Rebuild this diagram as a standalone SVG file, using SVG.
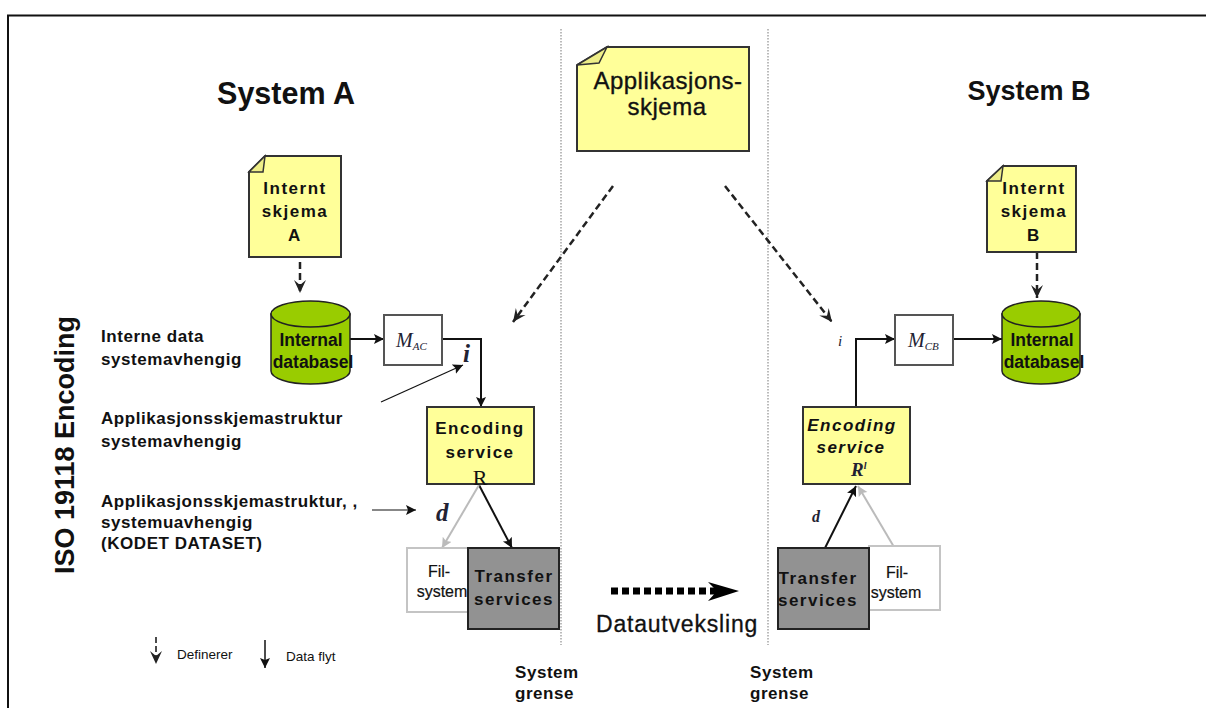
<svg xmlns="http://www.w3.org/2000/svg" width="1206" height="708" viewBox="0 0 1206 708">
<style>
text{font-family:"Liberation Sans",Arial,sans-serif;fill:#111;}
.n{font-size:17px;font-weight:bold;letter-spacing:1.5px;text-anchor:middle}
.db{font-size:17.500px;font-weight:bold;text-anchor:middle}
.l{font-size:17px;font-weight:bold;letter-spacing:.55px}
.s{font-size:16px;text-anchor:middle;stroke:#111;stroke-width:.2}
.ti{font-weight:bold;text-anchor:middle}
.big{stroke:#111;stroke-width:.35;text-anchor:middle}
.m{font-family:"Liberation Serif",serif;font-style:italic;fill:#223}
.note{fill:#ffff99;stroke:#333;stroke-width:2}
.fold{fill:#eeee88;stroke:#333;stroke-width:1.5}
.cyl{fill:#99cc00;stroke:#222;stroke-width:1.5}
.box{fill:#fff;stroke:#555;stroke-width:2}
.fs{fill:#fff;stroke:#c4c4c4;stroke-width:2}
.ts{fill:#929292;stroke:#222;stroke-width:2}
.enc{fill:#ffff99;stroke:#333;stroke-width:2}
.c{fill:none;stroke:#111;stroke-width:2}
.cg{fill:none;stroke:#bbb;stroke-width:2}
.d{fill:none;stroke:#222;stroke-width:2.500;stroke-dasharray:7 4}
.sb{fill:none;stroke:#bbb;stroke-width:2;stroke-dasharray:1.5 1.5}
</style>
<defs>
<marker id="a" markerUnits="userSpaceOnUse" markerWidth="12" markerHeight="12" refX="10" refY="5" orient="auto"><path d="M0 0L10 5L0 10L2 5Z" fill="#111"/></marker>
<marker id="ag" markerUnits="userSpaceOnUse" markerWidth="12" markerHeight="12" refX="10" refY="5" orient="auto"><path d="M0 0L10 5L0 10L2 5Z" fill="#bbb"/></marker>
<marker id="o" markerUnits="userSpaceOnUse" markerWidth="16" markerHeight="16" refX="13" refY="7" orient="auto"><path d="M0 1L13 7L0 13L5 7Z" fill="#222"/></marker>
</defs>
<rect width="1206" height="708" fill="#fff"/>
<path d="M8 708V15.500H1206" fill="none" stroke="#111" stroke-width="2"/>
<path class="sb" d="M561 29V645"/>
<path class="sb" d="M768 29V645"/>
<text class="ti" style="font-size:30.500px" x="286" y="104">System A</text>
<text class="ti" style="font-size:27px" x="1029" y="100">System B</text>
<text x="74" y="574" transform="rotate(-90 74 574)" style="font-size:27px;font-weight:bold;">ISO 19118 Encoding</text>

<g id="connectors">
<path class="d" d="M300 251V293" marker-end="url(#o)"/>
<path class="d" d="M1037 252V298" marker-end="url(#o)"/>
<path class="c" d="M350 339H384" marker-end="url(#a)"/>
<path class="c" d="M442 339H481V407" marker-end="url(#a)"/>
<path d="M381 402L463 365" fill="none" stroke="#111" stroke-width="1.200" marker-end="url(#a)"/>
<path class="c" d="M479 485L512 548" marker-end="url(#a)"/>
<path class="cg" d="M479 485L442 548" marker-end="url(#ag)"/>
<path d="M372 510H416" fill="none" stroke="#111" stroke-width="1.200" marker-end="url(#a)"/>
<path class="d" d="M613 186L513 322" marker-end="url(#o)"/>
<path class="d" d="M725 186L832 322" marker-end="url(#o)"/>
<path class="c" d="M856 407V339H895" marker-end="url(#a)"/>
<path class="c" d="M953 339H1002" marker-end="url(#a)"/>
<path class="c" d="M825 548L856 486" marker-end="url(#a)"/>
<path class="cg" d="M894 547L858 486" marker-end="url(#ag)"/>
<path d="M611 591H724" fill="none" stroke="#000" stroke-width="7" stroke-dasharray="7 4"/>
<path d="M708 582L739 591L708 601L717 591Z" fill="#000"/>
<path d="M156 637V664" fill="none" stroke="#111" stroke-width="1.500" stroke-dasharray="6 3" marker-end="url(#o)"/>
<path d="M265 640V668" fill="none" stroke="#111" stroke-width="1.500" marker-end="url(#a)"/>
</g>

<g id="applikasjonsskjema">
<path class="note" d="M577 65L607 47H749V151H577Z"/>
<path class="fold" d="M577 65L599 63L607 47Z"/>
<text class="big" style="font-size:24px;letter-spacing:.5px" x="668" y="89">Applikasjons-</text>
<text class="big" style="font-size:24px;letter-spacing:.5px" x="667" y="115">skjema</text>
</g>

<g id="internt-a">
<path class="note" d="M249 172L265 156H341V257H249Z"/>
<path class="fold" d="M249 172L263 172L265 156Z"/>
<text class="n" x="295" y="194">Internt</text>
<text class="n" x="295" y="217">skjema</text>
<text class="n" x="295" y="241">A</text>
</g>
<g id="internt-b">
<path class="note" d="M987 181L1003 166H1076V252H987Z"/>
<path class="fold" d="M987 181L1001 181L1003 166Z"/>
<text class="n" x="1034" y="194">Internt</text>
<text class="n" x="1034" y="217">skjema</text>
<text class="n" x="1034" y="241">B</text>
</g>

<g id="database-a">
<path class="cyl" d="M271 314V371A39.500 13 0 0 0 350 371V314Z"/>
<ellipse class="cyl" cx="310.500" cy="314" rx="39.500" ry="13"/>
<text class="db" x="311" y="346">Internal</text>
<text class="db" x="313" y="368">databasel</text>
</g>
<g id="database-b">
<path class="cyl" d="M1002 314V371A39 13 0 0 0 1080 371V314Z"/>
<ellipse class="cyl" cx="1041" cy="314" rx="39" ry="13"/>
<text class="db" x="1042" y="346">Internal</text>
<text class="db" x="1044" y="368">databasel</text>
</g>

<g id="mac">
<rect class="box" x="384" y="315" width="58" height="50"/>
<text class="m" x="396" y="347" style="font-size:20px">M<tspan font-size="11" dy="3">AC</tspan></text>
</g>
<g id="mcb">
<rect class="box" x="895" y="315" width="58" height="50"/>
<text class="m" x="908" y="347" style="font-size:20px">M<tspan font-size="11" dy="3">CB</tspan></text>
</g>

<g id="encoding-a">
<rect class="enc" x="427" y="407" width="107" height="77"/>
<text class="n" x="480" y="434">Encoding</text>
<text class="n" x="480" y="458">service</text>
<text x="480" y="485" text-anchor="middle" style="font-family:'Liberation Serif',serif;font-size:22px">R</text>
</g>
<g id="encoding-b">
<rect class="enc" x="803" y="407" width="107" height="77"/>
<text class="n" style="font-style:italic" x="852" y="431">Encoding</text>
<text class="n" style="font-style:italic" x="851" y="453">service</text>
<text class="m" x="851" y="476" style="font-size:19px;font-weight:bold">R<tspan font-size="10" dy="-7">l</tspan></text>
</g>

<g id="filsystem-a">
<rect class="fs" x="407" y="548" width="70" height="64"/>
<text class="s" x="439" y="577">Fil-</text>
<text class="s" x="442" y="597">system</text>
</g>
<g id="transfer-a">
<rect class="ts" x="468" y="548" width="91" height="81"/>
<text class="n" x="514" y="582">Transfer</text>
<text class="n" x="514" y="605">services</text>
</g>
<g id="filsystem-b">
<rect class="fs" x="869" y="546" width="71" height="64"/>
<text class="s" x="897" y="578">Fil-</text>
<text class="s" x="896" y="598">system</text>
</g>
<g id="transfer-b">
<rect class="ts" x="778" y="548" width="91" height="81"/>
<text class="n" x="818" y="584">Transfer</text>
<text class="n" x="818" y="606">services</text>
</g>

<g id="labels">
<text class="l" x="101" y="342">Interne data</text>
<text class="l" x="101" y="365">systemavhengig</text>
<text class="l" x="101" y="424">Applikasjonsskjemastruktur</text>
<text class="l" x="101" y="447">systemavhengig</text>
<text class="l" x="101" y="507">Applikasjonsskjemastruktur, ,</text>
<text class="l" x="101" y="528">systemuavhengig</text>
<text class="l" x="101" y="549">(KODET DATASET)</text>
<text class="m" x="463" y="362" style="font-size:25px;font-weight:bold">i</text>
<text class="m" x="838" y="346" style="font-size:15px">i</text>
<text class="m" x="436" y="521" style="font-size:25px;font-weight:bold">d</text>
<text class="m" x="812" y="522" style="font-size:16px;font-weight:bold">d</text>
<text x="596" y="632" style="font-size:23px;letter-spacing:.8px;stroke:#111;stroke-width:.3">Datautveksling</text>
<text class="l" x="515" y="678">System</text>
<text class="l" x="515" y="699">grense</text>
<text class="l" x="750" y="678">System</text>
<text class="l" x="750" y="699">grense</text>
<text x="177" y="659" style="font-size:13.500px">Definerer</text>
<text x="286" y="661" style="font-size:13.500px">Data flyt</text>
</g>
</svg>
